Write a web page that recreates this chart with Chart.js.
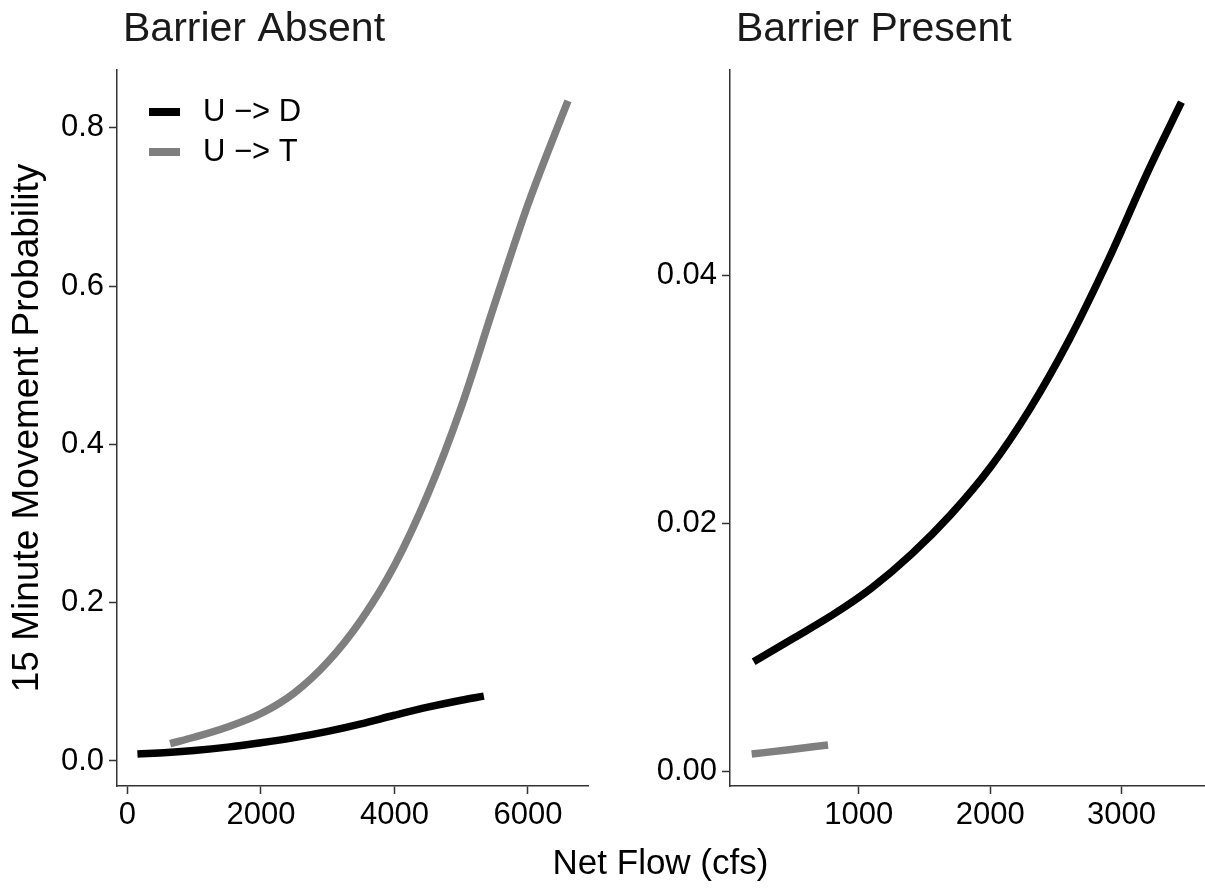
<!DOCTYPE html>
<html>
<head>
<meta charset="utf-8">
<script src="https://cdn.jsdelivr.net/npm/chart.js@4.4.4/dist/chart.umd.min.js"></script>
<style>
  html, body { margin: 0; padding: 0; background: #fff; }
  #wrap { position: relative; width: 1205px; height: 893px; overflow: hidden; }
  #wrap canvas { position: absolute; top: 0; }
  #left { left: 0; }
  #right { left: 600px; }
  #xtitle {
    position: absolute; left: 117px; width: 1087px; top: 842px;
    text-align: center; font: 35px Arial, "Liberation Sans", sans-serif;
    line-height: 40px; color: #000;
  }
</style>
</head>
<body>
<div id="wrap">
  <canvas id="left" width="600" height="893"></canvas>
  <canvas id="right" width="605" height="893"></canvas>
  <div id="xtitle">Net Flow (cfs)</div>
</div>
<script>
// values
const seriesLabels = ['U \u2212> D', 'U \u2212> T'];

// Barrier Absent panel
const absentUD_x = [150, 600, 1000, 1500, 2000, 2500, 3000, 3500, 4000, 4500, 5000, 5340];
const absentUD_y = [0.0088, 0.0108, 0.0133, 0.0175, 0.0230, 0.0295, 0.0375, 0.0470, 0.0578, 0.0680, 0.0768, 0.0820];
const absentUT_x = [640, 1000, 1500, 2000, 2500, 3000, 3500, 4000, 4500, 5000, 5500, 6000, 6300, 6600];
const absentUT_y = [0.022, 0.030, 0.043, 0.060, 0.086, 0.125, 0.178, 0.247, 0.337, 0.447, 0.577, 0.703, 0.770, 0.834];

// Barrier Present panel
const presentUD_x = [200, 500, 800, 1100, 1400, 1700, 2000, 2300, 2600, 2900, 3200, 3455];
const presentUD_y = [0.00883, 0.0107, 0.0126, 0.0148, 0.0175, 0.0207, 0.0245, 0.0292, 0.0348, 0.0413, 0.0484, 0.0540];
const presentUT_x = [185, 470, 766];
const presentUT_y = [0.00137, 0.00172, 0.0021];

// tick labels
const absentXTicks = [0, 2000, 4000, 6000];
const absentYTicks = [0, 0.2, 0.4, 0.6, 0.8];
const presentXTicks = [1000, 2000, 3000];
const presentYTicks = [0, 0.02, 0.04];

const FONT = 'Arial, "Liberation Sans", sans-serif';
const AXIS = '#333';
const colors = ['#000000', '#7f7f7f'];

const toPoints = (xs, ys) => xs.map((x, i) => ({ x, y: ys[i] }));

// panel title + in-panel key, placed relative to the chart area
const panelText = {
  id: 'panelText',
  afterDraw(chart, args, opts) {
    const { ctx, chartArea } = chart;
    ctx.save();
    ctx.textAlign = 'left';
    ctx.textBaseline = 'middle';
    ctx.fillStyle = '#1a1a1a';
    ctx.font = '41px ' + FONT;
    ctx.fillText(opts.title, chartArea.left + 6, chartArea.top - 40);
    if (opts.legend) {
      ctx.font = '31px ' + FONT;
      chart.data.datasets.forEach((ds, i) => {
        const y = chartArea.top + 42 + i * 40;
        ctx.fillStyle = ds.borderColor;
        ctx.fillRect(chartArea.left + 32, y - 4, 31, 8);
        ctx.fillStyle = '#000';
        ctx.fillText(ds.label, chartArea.left + 86, y);
      });
    }
    ctx.restore();
  }
};

function makeScale(opt) {
  return {
    type: 'linear',
    min: opt.min,
    max: opt.max,
    afterBuildTicks: s => { s.ticks = opt.ticks.map(v => ({ value: v })); },
    afterFit: opt.fit,
    ticks: {
      color: '#000',
      padding: opt.pad,
      font: { family: FONT, size: 31 },
      callback: opt.fmt,
      maxRotation: 0,
      autoSkip: false
    },
    grid: { display: true, drawOnChartArea: false, drawTicks: true, tickLength: 8, tickWidth: 1.5, tickColor: AXIS },
    border: { display: true, color: AXIS, width: 1.5 },
    title: opt.title || { display: false }
  };
}

function makeChart(id, cfg) {
  return new Chart(document.getElementById(id), {
    type: 'line',
    data: {
      datasets: cfg.series.map((s, i) => ({
        label: seriesLabels[i],
        data: toPoints(s[0], s[1]),
        borderColor: colors[i],
        backgroundColor: colors[i],
        borderWidth: 7.5,
        pointRadius: 0,
        fill: false,
        cubicInterpolationMode: 'monotone'
      }))
    },
    options: {
      responsive: false,
      animation: false,
      layout: { padding: cfg.padding },
      plugins: {
        legend: { display: false },
        tooltip: { enabled: false },
        panelText: { title: cfg.title, legend: cfg.legend }
      },
      scales: { x: cfg.x, y: cfg.y }
    },
    plugins: [panelText]
  });
}

makeChart('left', {
  title: 'Barrier Absent',
  legend: true,
  padding: { top: 70, right: 12, bottom: 0, left: 0 },
  series: [[absentUD_x, absentUD_y], [absentUT_x, absentUT_y]],
  x: makeScale({ min: -156, max: 6900, ticks: absentXTicks, pad: 3, fmt: v => String(v), fit: s => { s.height = 107; } }),
  y: makeScale({
    min: -0.0316, max: 0.873, ticks: absentYTicks, pad: 5, fmt: v => v.toFixed(1),
    fit: s => { s.width = 117; },
    title: { display: true, text: '15 Minute Movement Probability', color: '#000', font: { family: FONT, size: 37 }, padding: { top: 6, bottom: 0 } }
  })
});

makeChart('right', {
  title: 'Barrier Present',
  legend: false,
  padding: { top: 70, right: 1, bottom: 0, left: 0 },
  series: [[presentUD_x, presentUD_y], [presentUT_x, presentUT_y]],
  x: makeScale({ min: 20, max: 3627, ticks: presentXTicks, pad: 3, fmt: v => String(v), fit: s => { s.height = 107; } }),
  y: makeScale({ min: -0.00121, max: 0.0566, ticks: presentYTicks, pad: 5, fmt: v => v.toFixed(2), fit: s => { s.width = 130; } })
});
</script>
</body>
</html>
